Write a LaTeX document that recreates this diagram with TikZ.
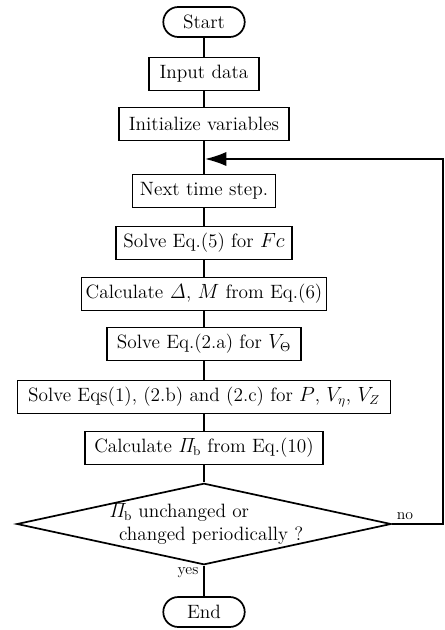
\documentclass[tikz,border=0pt]{standalone}
\usepackage{amsmath}
\usetikzlibrary{arrows.meta,positioning,shapes.geometric}
\tikzset{
  flow/.style={
    font=\fontsize{13.5}{16}\selectfont,
    line width=1.2pt,
    x=0.7pt, y=-0.7pt
  },
  procbox/.style={                 % process step
    draw, line width=1.2pt,
    inner sep=3pt,
    minimum height=23pt
  },
  termnode/.style={                % start / end
    draw, line width=1.2pt,
    rounded corners=10.5pt,
    minimum width=57pt,
    minimum height=21pt
  },
  decnode/.style={                 % convergence test
    draw, diamond, line width=1.2pt,
    inner sep=-6pt, aspect=4.6,
    minimum width=262pt,
    minimum height=57pt,
    align=left
  },
  flowline/.style={line width=1.2pt},
  looparrow/.style={line width=1.2pt, -{Latex[length=15pt,width=10pt]}},
  tagnode/.style={font=\fontsize{11}{13}\selectfont}
}
\begin{document}
\begin{tikzpicture}[flow]
\useasboundingbox (0,0) rectangle (444,630);
% main column
\node[termnode] (start) at (204,22) {Start};
\node[procbox, minimum width=77pt] (input) at (204,74) {Input data};
\node[procbox, minimum width=119pt] (init) at (204,124) {Initialize variables};
\node[procbox, minimum width=100pt] (next) at (204,191) {Next time step.};
\node[procbox, minimum width=123pt] (fc) at (204,243) {Solve Eq.(5) for $Fc$};
\node[procbox, minimum width=171pt] (delta) at (204,294) {Calculate $\mathit{\Delta}$, $M$ from Eq.(6)};
\node[procbox, minimum width=136pt] (vtheta) at (204,344) {Solve Eq.(2.a) for $V_{\Theta}$};
\node[procbox, minimum width=261pt] (peq) at (204,397) {Solve Eqs(1), (2.b) and (2.c) for $P$, $V_{\eta}$, $V_Z$};
\node[procbox, minimum width=167pt] (pib) at (204,448) {Calculate $\mathit{\Pi}_{\mathrm{b}}$ from Eq.(10)};
\node[decnode] (check) at (204,524) {\hspace*{3pt}$\mathit{\Pi}_{\mathrm{b}}$ unchanged or\\\hspace*{10pt}changed periodically ?};
\node[termnode] (stop) at (204,612) {End};

% straight connectors
\foreach \a/\b in {start/input, input/init, init/next, next/fc, fc/delta,
                   delta/vtheta, vtheta/peq, peq/pib, pib/check, check/stop} {
  \draw[flowline] (\a) -- (\b);
}

% loop back to next time step
\coordinate (rightlow) at (443,524);
\coordinate (righttop) at (443,159);
\coordinate (loopin) at (205,159);
\draw[looparrow] (check.east) -- (rightlow) -- (righttop) -- (loopin);

% branch labels
\node[tagnode] (yeslab) at (188,573) {yes};
\node[tagnode] (nolab) at (405,516) {no};
\end{tikzpicture}
\end{document}
